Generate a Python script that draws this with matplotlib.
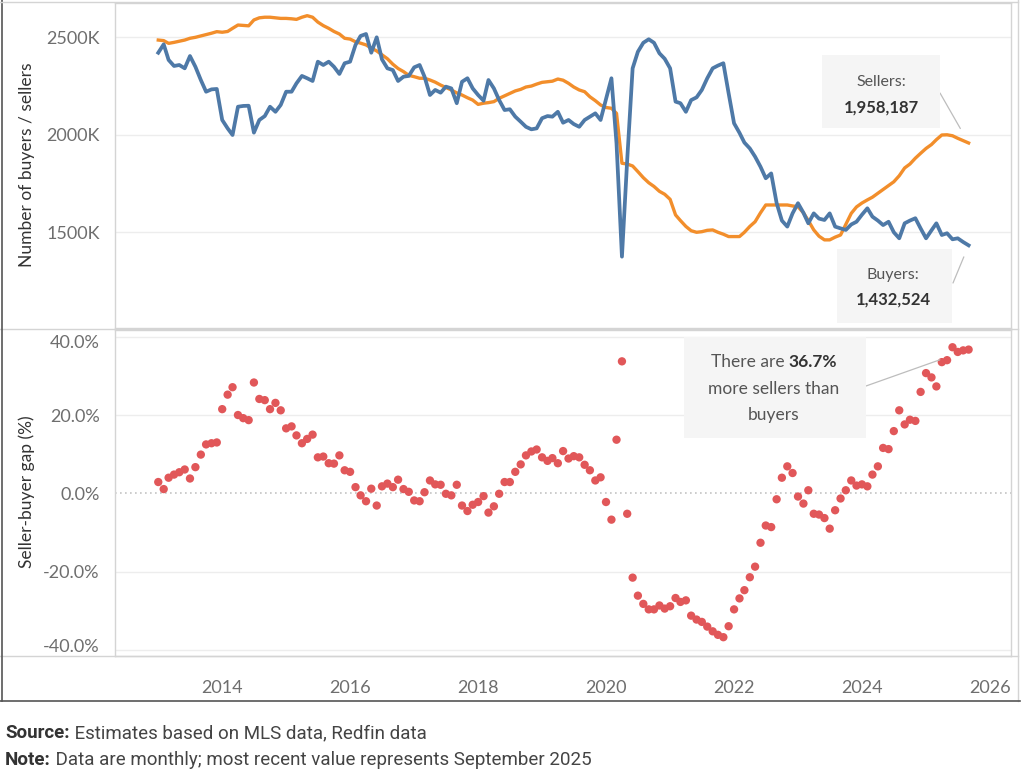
import matplotlib
matplotlib.use('Agg')
import matplotlib.pyplot as plt
import matplotlib.dates as mdates
import matplotlib.transforms as mtransforms
from matplotlib.lines import Line2D
from matplotlib.patches import Rectangle
import pandas as pd

W, H = 1024, 778

# buyers / sellers in thousands, monthly Jan 2013 .. Sep 2025
buyers_k = [
    2421, 2464, 2384, 2353, 2358, 2341, 2404, 2349, 2281, 2221, 2233, 2235,
    2076, 2033, 1999, 2144, 2148, 2149, 2011, 2076, 2096, 2144, 2118, 2153,
    2221, 2221, 2264, 2302, 2290, 2276, 2375, 2358, 2375, 2349, 2312, 2367,
    2375, 2461, 2507, 2517, 2421, 2500, 2387, 2341, 2332, 2276, 2298, 2302,
    2346, 2358, 2298, 2204, 2230, 2216, 2247, 2238, 2162, 2272, 2290, 2238,
    2204, 2175, 2281, 2238, 2178, 2127, 2131, 2093, 2067, 2041, 2028, 2033,
    2085, 2096, 2093, 2118, 2062, 2076, 2055, 2041, 2076, 2093, 2110, 2076,
    2182, 2290, 1956, 1375, 1871, 2341, 2426, 2472, 2490, 2472, 2418, 2390,
    2341, 2170, 2162, 2118, 2178, 2192, 2230, 2290, 2341, 2355, 2367, 2213,
    2059, 2010, 1960, 1930, 1888, 1836, 1777, 1802, 1650, 1560, 1529, 1597,
    1649, 1600, 1546, 1597, 1570, 1563, 1597, 1529, 1520, 1512, 1540, 1554,
    1590, 1623, 1580, 1560, 1537, 1554, 1500, 1469, 1546, 1560, 1572, 1520,
    1469, 1510, 1546, 1486, 1495, 1464, 1469, 1450, 1433,
]
sellers_k = [
    2486, 2483, 2469, 2474, 2480, 2486, 2495, 2500, 2507, 2514, 2521, 2529,
    2526, 2530, 2546, 2563, 2561, 2559, 2589, 2600, 2603, 2603, 2600, 2597,
    2597, 2595, 2592, 2603, 2611, 2603, 2578, 2560, 2546, 2530, 2517, 2495,
    2491, 2477, 2470, 2461, 2445, 2430, 2410, 2390, 2362, 2340, 2324, 2305,
    2298, 2290, 2290, 2281, 2270, 2255, 2243, 2230, 2215, 2204, 2190, 2178,
    2156, 2162, 2165, 2170, 2187, 2200, 2213, 2225, 2233, 2245, 2250, 2260,
    2269, 2272, 2275, 2286, 2280, 2264, 2245, 2230, 2221, 2195, 2175, 2153,
    2140, 2136, 2110, 1854, 1850, 1840, 1811, 1780, 1754, 1735, 1710, 1695,
    1669, 1589, 1560, 1530, 1508, 1500, 1503, 1510, 1512, 1500, 1490, 1478,
    1478, 1478, 1500, 1530, 1554, 1600, 1640, 1640, 1640, 1640, 1640, 1635,
    1631, 1600, 1560, 1512, 1480, 1461, 1461, 1475, 1486, 1540, 1597, 1630,
    1650, 1666, 1680, 1700, 1720, 1740, 1759, 1790, 1830, 1850, 1880, 1905,
    1930, 1950, 1975, 1999, 2000, 1995, 1982, 1970, 1958,
]
gap_pct = [
    2.9, 1.1, 4.0, 4.8, 5.4, 6.1, 3.8, 6.7, 9.9, 12.5, 12.8, 13.0,
    21.5, 25.2, 27.1, 20.0, 19.2, 18.7, 28.3, 24.1, 23.8, 21.5, 23.1, 21.2,
    16.6, 17.1, 14.8, 12.8, 13.9, 15.0, 9.2, 9.4, 7.7, 7.6, 9.7, 5.9,
    5.5, 1.6, -0.5, -2.0, 1.2, -3.1, 1.8, 2.5, 1.6, 3.5, 1.1, 0.4,
    -1.8, -2.0, 0.3, 3.3, 2.3, 2.2, -0.1, -0.5, 2.2, -3.1, -4.5, -2.9,
    -2.2, -0.7, -4.9, -3.3, -0.1, 2.9, 2.9, 5.5, 7.4, 9.7, 10.7, 11.2,
    9.2, 8.3, 9.0, 7.7, 10.8, 8.9, 9.5, 9.2, 7.3, 5.9, 3.3, 4.1,
    -2.2, -6.7, 13.7, 33.7, -5.2, -21.5, -26.1, -28.2, -29.6, -29.6, -28.6, -29.4,
    -28.8, -26.7, -27.7, -27.3, -31.2, -32.2, -32.8, -34.0, -35.2, -36.1, -36.7, -33.9,
    -29.6, -26.8, -24.7, -21.4, -18.7, -12.6, -8.2, -8.6, -1.5, 4.0, 6.9, 5.2,
    -0.8, -2.6, 0.8, -5.2, -5.4, -6.3, -9.0, -4.3, -1.3, 0.8, 3.3, 2.0,
    2.3, 1.8, 4.8, 6.9, 11.6, 11.3, 15.9, 21.2, 17.6, 18.8, 18.5, 25.9,
    30.7, 29.6, 27.3, 33.5, 34.0, 37.3, 36.1, 36.5, 36.7,
]
months = pd.date_range('2013-01-01', periods=len(gap_pct), freq='MS')
year_ticks = list(range(2014, 2027, 2))
top_ticks = [1500, 2000, 2500]
bot_ticks = [-40, -20, 0, 20, 40]

sellers_label = '1,958,187'
buyers_label = '1,432,524'
gap_label = '36.7%'

BLUE = '#4e79a7'
ORANGE = '#f28e2b'
RED = '#e15759'
FRAME = '#d4d4d4'
GRID = '#ededed'
TICK = '#6e6e6e'

plt.rcParams['font.family'] = ['Lato', 'DejaVu Sans']
FOOT = ['Liberation Sans Narrow', 'Roboto', 'DejaVu Sans']


def px(x, y):
    return x / W, 1 - y / H


fig = plt.figure(figsize=(W / 100, H / 100), dpi=100)
ax1 = fig.add_axes([115 / W, 1 - 328 / H, 896 / W, 325 / H])
ax2 = fig.add_axes([115 / W, 1 - 656 / H, 896 / W, 326 / H], sharex=ax1)

# top panel
for t in top_ticks:
    ax1.axhline(t, color=GRID, lw=1, zorder=0)
ax1.plot(months, sellers_k, color=ORANGE, lw=2.4, zorder=2)
ax1.plot(months, buyers_k, color=BLUE, lw=2.7, zorder=3)
ax1.set_ylim(1009, 2676)
ax1.set_yticks(top_ticks)
ax1.set_yticklabels(['%dK' % t for t in top_ticks])

# bottom panel
for t in bot_ticks:
    if t != 0:
        ax2.axhline(t, color=GRID, lw=1, zorder=0)
ax2.axhline(0, color='#c4c4c4', lw=1.2, ls=(0, (1, 2)), zorder=0)
ax2.scatter(months, gap_pct, s=36, color=RED, edgecolors='none', zorder=3)
ax2.set_ylim(-41.5, 41.7)
ax2.set_yticks(bot_ticks)
ax2.set_yticklabels(['%.1f%%' % t for t in bot_ticks])

ax2.set_xlim(pd.Timestamp('2012-04-29'), pd.Timestamp('2026-05-01'))
ax2.set_xticks([pd.Timestamp('%d-01-01' % y) for y in year_ticks])
ax2.xaxis.set_major_formatter(mdates.DateFormatter('%Y'))

for ax in (ax1, ax2):
    for s in ax.spines.values():
        s.set_color(FRAME)
        s.set_linewidth(1)
    ax.tick_params(axis='y', length=0, pad=11, labelsize=13, labelcolor=TICK)
    ax.set_facecolor('white')
ax1.tick_params(axis='x', length=0, labelbottom=False)
ax2.tick_params(axis='x', length=0, pad=17, labelsize=13, labelcolor=TICK)

# edge labels pushed inside the panel, as in the original
labs = ax2.get_yticklabels()
labs[0].set_transform(labs[0].get_transform() +
                      mtransforms.ScaledTranslation(0, 5 / 100, fig.dpi_scale_trans))
labs[-1].set_transform(labs[-1].get_transform() +
                       mtransforms.ScaledTranslation(0, -5 / 100, fig.dpi_scale_trans))

# axis titles
fig.text(*px(27, 165), 'Number of buyers / sellers', rotation=90, ha='center',
         va='center', fontsize=12.5, color='#333333')
fig.text(*px(27, 492), 'Seller-buyer gap (%)', rotation=90, ha='center',
         va='center', fontsize=12.5, color='#333333')

# frame lines
def fline(x0, y0, x1, y1, color=FRAME, lw=1):
    a, b = px(x0, y0)
    c, d = px(x1, y1)
    fig.add_artist(Line2D([a, c], [b, d], transform=fig.transFigure,
                          color=color, lw=lw))

fline(0, 329, 1018, 329)
fline(0, 656, 1018, 656)
fline(1018, 0, 1018, 701)
fline(1.5, 0, 1.5, 701, color='#555555', lw=1.2)
fline(0, 701, 1020, 701, color='#555555', lw=1.2)
fline(0, 1.5, 1018, 1.5)


def box(x0, y0, x1, y1):
    a, b = px(x0, y1)
    fig.add_artist(Rectangle((a, b), (x1 - x0) / W, (y1 - y0) / H,
                             transform=fig.transFigure, facecolor='#f5f5f5',
                             edgecolor='none', zorder=5))


def leader(ax, xy, x, y, shrink):
    ax.annotate('', xy=xy, xycoords='data', xytext=(x, H - y),
                textcoords='figure pixels',
                arrowprops=dict(arrowstyle='-', color='#bdbdbd', lw=0.9,
                                shrinkA=0, shrinkB=shrink),
                annotation_clip=False)


# sellers label
box(822, 55, 940, 128)
fig.text(*px(881, 82), 'Sellers:', ha='center', va='center', fontsize=11.5,
         color='#555555', zorder=6)
fig.text(*px(881, 108), sellers_label, ha='center', va='center', fontsize=12,
         fontweight='bold', color='#333333', zorder=6)
leader(ax1, (months[-1], sellers_k[-1]), 940, 93, 12)

# buyers label
box(837, 249, 952, 323)
fig.text(*px(893, 275), 'Buyers:', ha='center', va='center', fontsize=11.5,
         color='#555555', zorder=6)
fig.text(*px(893, 300), buyers_label, ha='center', va='center', fontsize=12,
         fontweight='bold', color='#333333', zorder=6)
leader(ax1, (months[-1], buyers_k[-1]), 953, 283, 9)

# gap label
box(684, 337, 866, 438)
renderer = fig.canvas.get_renderer()


def mixed(parts, x, y, size, family=None, center=False):
    texts = []
    for s, w, c in parts:
        kw = dict(fontsize=size, fontweight=w, color=c, va='center', zorder=6)
        if family:
            kw['family'] = family
        texts.append(fig.text(0, 0, s, **kw))
    widths = [t.get_window_extent(renderer).width for t in texts]
    start = x - sum(widths) / 2 if center else x
    for t, wdt in zip(texts, widths):
        t.set_position(px(start, y))
        start += wdt


mixed([('There are ', 'normal', '#555555'), (gap_label, 'bold', '#333333')],
      774, 362, 12.5, center=True)
fig.text(*px(774, 389), 'more sellers than', ha='center', va='center',
         fontsize=12.5, color='#555555', zorder=6)
fig.text(*px(774, 415), 'buyers', ha='center', va='center', fontsize=12.5,
         color='#555555', zorder=6)
leader(ax2, (months[-1], gap_pct[-1]), 866, 386, 22)

# footer
mixed([('Source:', 'bold', '#333333'),
       (' Estimates based on MLS data, Redfin data', 'normal', '#444444')],
      5, 733, 13.5, family=FOOT)
mixed([('Note:', 'bold', '#333333'),
       (' Data are monthly; most recent value represents September 2025',
        'normal', '#444444')],
      5, 760, 13.5, family=FOOT)

fig.savefig('out.png', dpi=100, facecolor='white')
